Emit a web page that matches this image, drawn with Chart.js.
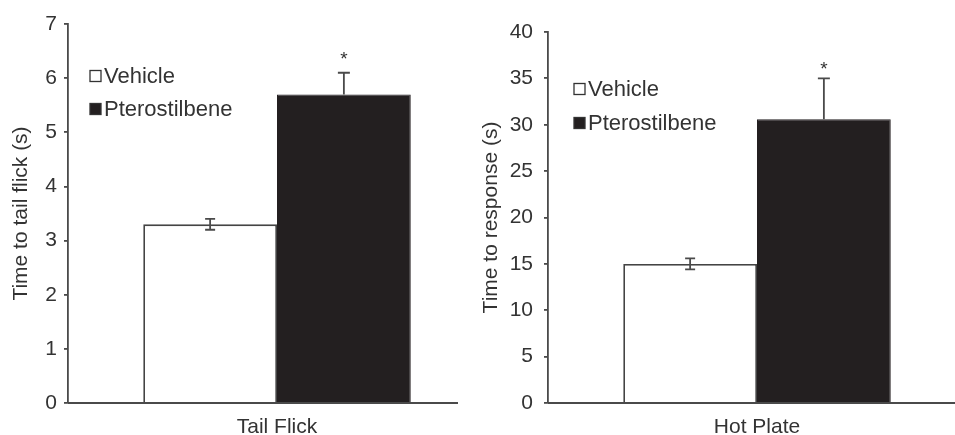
<!DOCTYPE html>
<html>
<head>
<meta charset="UTF-8">
<title>Pterostilbene nociception</title>
<script src="https://cdn.jsdelivr.net/npm/chart.js"></script>
<style>
  html, body { margin: 0; padding: 0; background: #fff; overflow: hidden; }
  .panel { position: absolute; top: 0; }
</style>
</head>
<body>
<div class="panel" style="left:0px"><canvas id="tailChart" width="490" height="435"></canvas></div>
<div class="panel" style="left:470px"><canvas id="hotChart" width="500" height="435"></canvas></div>

<script>
// data
const tests = ['Tail Flick', 'Hot Plate'];
const yTitles = ['Time to tail flick (s)', 'Time to response (s)'];
const seriesNames = ['Vehicle', 'Pterostilbene'];
const vehicleMeans = [3.3, 15.0];
const vehicleErrs = [0.1, 0.6];
const pteroMeans = [5.7, 30.6];
const pteroErrs = [0.4, 4.4];
const pteroMarks = ['*', '*'];
const yMax = [7, 40];
const yStep = [1, 5];

const TEXT = '#333333';
const LINE = '#4a4a4a';
const FONT = 'Liberation Sans, Arial, sans-serif';

// per-panel layout tweaks
const panels = [
    { id: 'tailChart', padLeft: 9, axisWidth: 59, padTop: 24, tickPad: 7, xLineEnd: 0.933, legendX: 22, legendY: 52, legendGap: 33, starLift: 6 },
    { id: 'hotChart', padLeft: 9, axisWidth: 69, padTop: 32, tickPad: 11, xLineEnd: 1, legendX: 26, legendY: 57, legendGap: 34, starLift: 1 }
];

const extras = {
    id: 'extras',
    afterDatasetsDraw(chart, args, opts) {
        const ctx = chart.ctx;
        const ys = chart.scales.y;
        const area = chart.chartArea;
        ctx.save();

        // x axis line
        ctx.strokeStyle = LINE;
        ctx.lineWidth = 1.8;
        ctx.beginPath();
        ctx.moveTo(area.left, area.bottom);
        ctx.lineTo(area.left + (area.right - area.left) * opts.xLineEnd, area.bottom);
        ctx.stroke();

        // error bars + significance
        chart.data.datasets.forEach((ds, i) => {
            const bar = chart.getDatasetMeta(i).data[0];
            const v = ds.data[0], e = ds.errors[0];
            const yv = ys.getPixelForValue(v);
            const yHi = ys.getPixelForValue(v + e);
            const yLo = ys.getPixelForValue(v - e);
            const x = bar.x, cap = ds.capWidth / 2;
            ctx.strokeStyle = LINE;
            ctx.lineWidth = 1.8;
            ctx.beginPath();
            ctx.moveTo(x, yv); ctx.lineTo(x, yHi);
            ctx.moveTo(x - cap, yHi); ctx.lineTo(x + cap, yHi);
            if (ds.showLower) {
                ctx.moveTo(x, yv); ctx.lineTo(x, yLo);
                ctx.moveTo(x - cap, yLo); ctx.lineTo(x + cap, yLo);
            }
            ctx.stroke();
            if (ds.mark) {
                ctx.fillStyle = TEXT;
                ctx.font = '19px ' + FONT;
                ctx.textAlign = 'center';
                ctx.textBaseline = 'alphabetic';
                ctx.fillText(ds.mark, x, yHi - 2 - opts.starLift);
            }
        });

        // legend
        ctx.font = '22px ' + FONT;
        ctx.textAlign = 'left';
        ctx.textBaseline = 'middle';
        chart.data.datasets.forEach((ds, i) => {
            const bx = area.left + opts.legendX;
            const by = area.top + opts.legendY + i * opts.legendGap;
            ctx.fillStyle = ds.backgroundColor;
            ctx.fillRect(bx, by - 5.5, 11, 11);
            ctx.strokeStyle = '#333';
            ctx.lineWidth = 1.3;
            ctx.strokeRect(bx, by - 5.5, 11, 11);
            ctx.fillStyle = TEXT;
            ctx.fillText(ds.label, bx + 14, by + 1);
        });
        ctx.restore();
    }
};

panels.forEach((p, k) => {
    new Chart(document.getElementById(p.id), {
        type: 'bar',
        data: {
            labels: [tests[k]],
            datasets: [{
                label: seriesNames[0],
                data: [vehicleMeans[k]],
                errors: [vehicleErrs[k]],
                showLower: true,
                capWidth: 10,
                backgroundColor: '#ffffff',
                borderColor: '#444',
                borderWidth: 1.8,
                borderSkipped: 'bottom'
            }, {
                label: seriesNames[1],
                data: [pteroMeans[k]],
                errors: [pteroErrs[k]],
                showLower: false,
                capWidth: 12,
                mark: pteroMarks[k],
                backgroundColor: '#231f20',
                borderColor: '#231f20',
                borderWidth: 1,
                borderSkipped: 'bottom'
            }]
        },
        options: {
            responsive: false,
            animation: false,
            layout: { padding: { left: p.padLeft, right: 4, top: p.padTop, bottom: 0 } },
            datasets: { bar: { categoryPercentage: 0.64, barPercentage: 1.0 } },
            plugins: {
                legend: { display: false },
                tooltip: { enabled: false },
                extras: { xLineEnd: p.xLineEnd, legendX: p.legendX, legendY: p.legendY, legendGap: p.legendGap, starLift: p.starLift }
            },
            scales: {
                x: {
                    grid: { display: false, drawTicks: false },
                    border: { display: false },
                    ticks: { color: TEXT, font: { family: FONT, size: 21 }, padding: 12 },
                    afterFit: s => { s.height = 32; }
                },
                y: {
                    min: 0,
                    max: yMax[k],
                    ticks: { stepSize: yStep[k], color: TEXT, font: { family: FONT, size: 21 }, padding: p.tickPad },
                    grid: { drawOnChartArea: false, drawTicks: true, tickLength: 4, color: LINE, lineWidth: 1.8 },
                    border: { display: true, color: LINE, width: 1.8 },
                    title: { display: true, text: yTitles[k], color: TEXT, font: { family: FONT, size: 21 }, padding: 0 },
                    afterFit: s => { s.width = p.axisWidth; }
                }
            }
        },
        plugins: [extras]
    });
});
</script>
</body>
</html>
